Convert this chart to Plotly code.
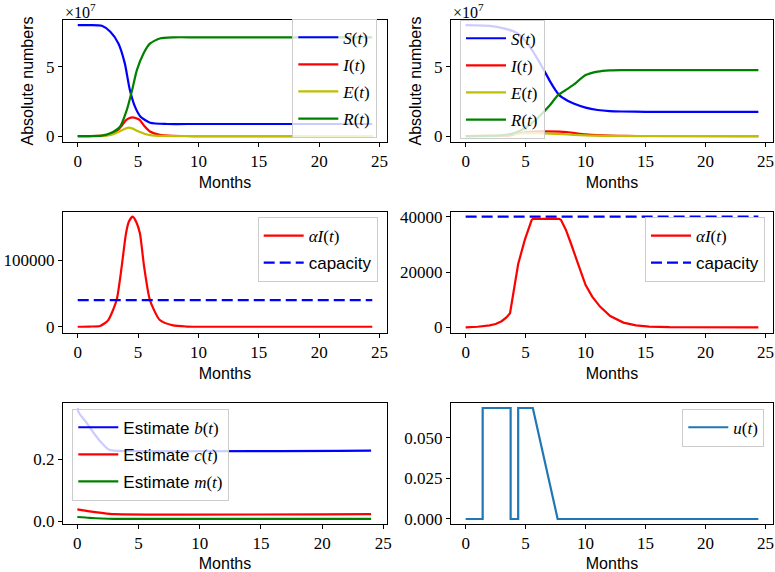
import plotly.graph_objects as go

# ---------------- data ----------------
# Top-left: uncontrolled epidemic (absolute numbers)
t_S1 = [0, 1, 2, 2.7, 3.37, 3.9, 4.3, 4.75, 5.2, 6.0, 7.4, 10, 24.4]
S1 = [8.0e7, 8.0e7, 7.95e7, 7.52e7, 6.68e7, 5.24e7, 3.4e7, 2.1e7, 1.4e7, 0.96e7, 0.87e7, 0.87e7, 0.87e7]
t_R1 = [0, 1, 2, 2.7, 3.5, 4.06, 4.5, 4.9, 5.45, 6.0, 6.8, 7.9, 10, 24.4]
R1 = [0, 0, 0.03e7, 0.2e7, 0.67e7, 1.87e7, 3.3e7, 4.76e7, 5.96e7, 6.68e7, 7.04e7, 7.12e7, 7.12e7, 7.12e7]
t_I1 = [0, 1, 1.85, 2.53, 3.22, 3.64, 4.0, 4.25, 4.55, 4.85, 5.15, 5.5, 5.98, 6.8, 7.9, 9, 10, 24.4]
I1 = [0, 0.0002e7, 0.008e7, 0.08e7, 0.33e7, 0.74e7, 1.15e7, 1.29e7, 1.35e7, 1.28e7, 1.15e7, 0.74e7, 0.33e7, 0.08e7, 0.016e7, 0.002e7, 0, 0]
t_E1 = [0, 1, 2, 2.5, 3, 3.5, 4, 4.25, 4.5, 5, 5.5, 6, 7, 8, 24.4]
E1 = [0, 0, 0.01e7, 0.04e7, 0.15e7, 0.35e7, 0.55e7, 0.6e7, 0.55e7, 0.35e7, 0.17e7, 0.07e7, 0.01e7, 0, 0]

# Top-right: controlled epidemic
t_S2 = [0, 2, 3, 4, 4.5, 5, 5.5, 6, 6.5, 7, 7.5, 7.8, 8.5, 9, 10, 11, 12, 13, 15, 24.4]
S2 = [8.0e7, 7.95e7, 7.8e7, 7.55e7, 7.3e7, 6.85e7, 6.25e7, 5.55e7, 4.8e7, 4.0e7, 3.3e7, 2.95e7, 2.55e7, 2.35e7, 2.05e7, 1.88e7, 1.8e7, 1.77e7, 1.75e7, 1.75e7]
t_R2 = [0, 2, 3, 4, 5, 6, 7, 7.7, 8.5, 9, 10, 11, 12, 13, 15, 24.4]
R2 = [0, 0.01e7, 0.05e7, 0.2e7, 0.6e7, 1.3e7, 2.2e7, 2.95e7, 3.4e7, 3.7e7, 4.4e7, 4.65e7, 4.74e7, 4.76e7, 4.76e7, 4.76e7]
t_I2 = [0, 2, 3, 3.7, 4.38, 5.0, 5.6, 7.8, 8.4, 9.2, 10, 11, 12, 13.4, 15, 24.4]
I2 = [0, 0.006e7, 0.018e7, 0.042e7, 0.187e7, 0.27e7, 0.32e7, 0.32e7, 0.29e7, 0.2e7, 0.12e7, 0.06e7, 0.027e7, 0.009e7, 0.002e7, 0]
t_E2 = [0, 2, 3, 4, 5, 6, 7, 8, 9, 10, 11, 12, 14, 24.4]
E2 = [0, 0.02e7, 0.05e7, 0.15e7, 0.2e7, 0.2e7, 0.18e7, 0.14e7, 0.09e7, 0.05e7, 0.025e7, 0.01e7, 0, 0]

# Middle-left: alpha*I(t) without control
t_aI1 = t_I1
aI1 = [0, 300, 1000, 10000, 40000, 90000, 140000, 158000, 165000, 157000, 140000, 90000, 40000, 10000, 2000, 300, 0, 0]
# Middle-right: alpha*I(t) with control
t_aI2 = [0, 1, 2, 2.5, 3, 3.4, 3.7, 4.38, 4.93, 5.5, 5.6, 7.8, 7.95, 8.36, 8.77, 9.18, 9.6, 10, 10.55, 11.2, 12.05, 13.15, 14.2, 15.3, 17, 24.4]
aI2 = [0, 200, 700, 1200, 2200, 3600, 5100, 22900, 31600, 38800, 39200, 39200, 38800, 35200, 30400, 24900, 20100, 15300, 11100, 7500, 4100, 1700, 720, 240, 50, 0]
t_cap = [0, 24.4]
capacity = [40000, 40000]

# Bottom-left: parameter estimates
t_b = [0, 0.15, 0.7, 1.25, 1.9, 2.6, 3.0, 24]
b_est = [0.362, 0.348, 0.320, 0.289, 0.256, 0.230, 0.227, 0.227]
t_cm = [0, 1, 2, 3, 24]
c_est = [0.0376, 0.031, 0.026, 0.0222, 0.0222]
m_est = [0.0129, 0.0100, 0.0080, 0.0068, 0.0067]

# Bottom-right: control u(t)
t_u = [0, 1.42, 1.42, 3.75, 3.75, 4.38, 4.38, 5.6, 7.67, 24.4]
u = [0, 0, 0.0685, 0.0685, 0, 0, 0.0685, 0.0685, 0, 0]

x_ticks = [0, 5, 10, 15, 20, 25]

# ---------------- styling ----------------
W, H = 775, 572
SERIF = "Liberation Serif"
SANS = "Liberation Sans"
BLUE, RED, YEL, GRN, C0 = "#0000ff", "#ff0000", "#bfbf00", "#008000", "#1f77b4"
LW = 2.2

def px_x(a, b):
    return [a / W, b / W]

def px_y(top, bottom):
    return [(H - bottom) / H, (H - top) / H]

col1 = px_x(63, 387)
col2 = px_x(451, 773)
row1 = px_y(20, 142)
row2 = px_y(212, 333)
row3 = px_y(403, 524)

def sv(txt):
    return '<span style="font-family:%s">%s</span>' % (SANS, txt)

fig = go.Figure()

def add(x, y, xa, ya, name, color, legend, group, dash="solid", shape="spline"):
    fig.add_trace(go.Scatter(
        x=x, y=y, xaxis=xa, yaxis=ya, name=name, mode="lines",
        line=dict(color=color, width=LW, dash=dash, shape=shape, smoothing=0.6 if shape == "spline" else None),
        legend=legend, legendgroup=group, hoverinfo="skip"))

DASH = "11px,5px"
# top-left
add(t_S1, S1, "x", "y", "<i>S</i>(<i>t</i>)", BLUE, "legend", "a1")
add(t_I1, I1, "x", "y", "<i>I</i>(<i>t</i>)", RED, "legend", "a2")
add(t_E1, E1, "x", "y", "<i>E</i>(<i>t</i>)", YEL, "legend", "a3")
add(t_R1, R1, "x", "y", "<i>R</i>(<i>t</i>)", GRN, "legend", "a4")
# top-right
add(t_S2, S2, "x2", "y2", "<i>S</i>(<i>t</i>)", BLUE, "legend2", "b1")
add(t_I2, I2, "x2", "y2", "<i>I</i>(<i>t</i>)", RED, "legend2", "b2")
add(t_E2, E2, "x2", "y2", "<i>E</i>(<i>t</i>)", YEL, "legend2", "b3")
add(t_R2, R2, "x2", "y2", "<i>R</i>(<i>t</i>)", GRN, "legend2", "b4")
# middle-left
add(t_aI1, aI1, "x3", "y3", "<i>αI</i>(<i>t</i>)", RED, "legend3", "c1")
add(t_cap, capacity, "x3", "y3", sv("capacity"), BLUE, "legend3", "c2", dash=DASH, shape="linear")
# middle-right
add(t_aI2, aI2, "x4", "y4", "<i>αI</i>(<i>t</i>)", RED, "legend4", "d1", shape="linear")
add(t_cap, capacity, "x4", "y4", sv("capacity"), BLUE, "legend4", "d2", dash=DASH, shape="linear")
# bottom-left
add(t_b, b_est, "x5", "y5", sv("Estimate ") + "<i>b</i>(<i>t</i>)", BLUE, "legend5", "e1")
add(t_cm, c_est, "x5", "y5", sv("Estimate ") + "<i>c</i>(<i>t</i>)", RED, "legend5", "e2")
add(t_cm, m_est, "x5", "y5", sv("Estimate ") + "<i>m</i>(<i>t</i>)", GRN, "legend5", "e3")
# bottom-right
add(t_u, u, "x6", "y6", "<i>u</i>(<i>t</i>)", C0, "legend6", "f1", shape="linear")

tickfont = dict(family=SERIF, size=17, color="black")
titlefont = dict(family=SANS, size=16, color="black")

def xaxis(dom, anchor):
    return dict(domain=dom, anchor=anchor, range=[-1.22, 25.62], tickvals=x_ticks,
                ticktext=[str(v) for v in x_ticks], showline=True, mirror=True,
                linecolor="black", linewidth=1, ticks="outside", ticklen=4, tickcolor="black",
                showgrid=False, zeroline=False, tickfont=tickfont, automargin=False,
                title=dict(text="Months", font=titlefont, standoff=6))

def yaxis(dom, anchor, rng, tv, tt, title=None):
    d = dict(domain=dom, anchor=anchor, range=rng, tickvals=tv, ticktext=tt, showline=True,
             mirror=True, linecolor="black", linewidth=1, ticks="outside", ticklen=4,
             tickcolor="black", showgrid=False, zeroline=False, tickfont=tickfont,
             automargin=False)
    if title:
        d["title"] = dict(text=title, font=titlefont, standoff=8)
    return d

ytop_range = [-0.43e7, 8.37e7]
layout = dict(
    width=W, height=H, margin=dict(l=0, r=0, t=0, b=0, autoexpand=False),
    paper_bgcolor="white", plot_bgcolor="white", hovermode=False,
    xaxis=xaxis(col1, "y"), yaxis=yaxis(row1, "x", ytop_range, [0, 5e7], ["0", "5"], "Absolute numbers"),
    xaxis2=xaxis(col2, "y2"), yaxis2=yaxis(row1, "x2", ytop_range, [0, 5e7], ["0", "5"], "Absolute numbers"),
    xaxis3=xaxis(col1, "y3"), yaxis3=yaxis(row2, "x3", [-9400, 172000], [0, 100000], ["0", "100000"]),
    xaxis4=xaxis(col2, "y4"), yaxis4=yaxis(row2, "x4", [-2060, 41700], [0, 20000, 40000], ["0", "20000", "40000"]),
    xaxis5=dict(xaxis(col1, "y5"), range=[-1.17, 25.3]),
    yaxis5=yaxis(row3, "x5", [-0.0097, 0.381], [0.0, 0.2], ["0.0", "0.2"]),
    xaxis6=xaxis(col2, "y6"), yaxis6=yaxis(row3, "x6", [-0.0031, 0.0716], [0, 0.025, 0.05], ["0.000", "0.025", "0.050"]),
)

def leg(x, y, xanchor):
    return dict(x=x, y=y, xref="paper", yref="paper", xanchor=xanchor, yanchor="top",
                bgcolor="rgba(255,255,255,0.8)", bordercolor="#cccccc", borderwidth=1,
                font=dict(family=SERIF, size=17, color="black"), tracegroupgap=2,
                itemwidth=40)

UP = 3
layout["legend"] = leg(377.3 / W, (H - 21.7 + UP) / H, "right")
layout["legend2"] = leg(460 / W, (H - 22.7 + UP) / H, "left")
layout["legend3"] = leg(377.7 / W, (H - 220 + UP) / H, "right")
layout["legend4"] = leg(765 / W, (H - 220 + UP) / H, "right")
layout["legend5"] = leg(72.3 / W, (H - 411.7 + UP) / H, "left")
layout["legend6"] = leg(764.3 / W, (H - 411.7 + UP) / H, "right")

fig.update_layout(**layout)

for xpx in (63, 451):
    fig.add_annotation(x=xpx / W, y=(H + 1) / H, xref="paper", yref="paper",
                       xanchor="left", yanchor="top", showarrow=False,
                       text="×10<sup>7</sup>", font=dict(family=SERIF, size=16, color="black"))

fig.write_html("out.html", config={"displayModeBar": False},
               post_script="document.body.style.margin='0px';document.body.style.overflow='hidden';")
